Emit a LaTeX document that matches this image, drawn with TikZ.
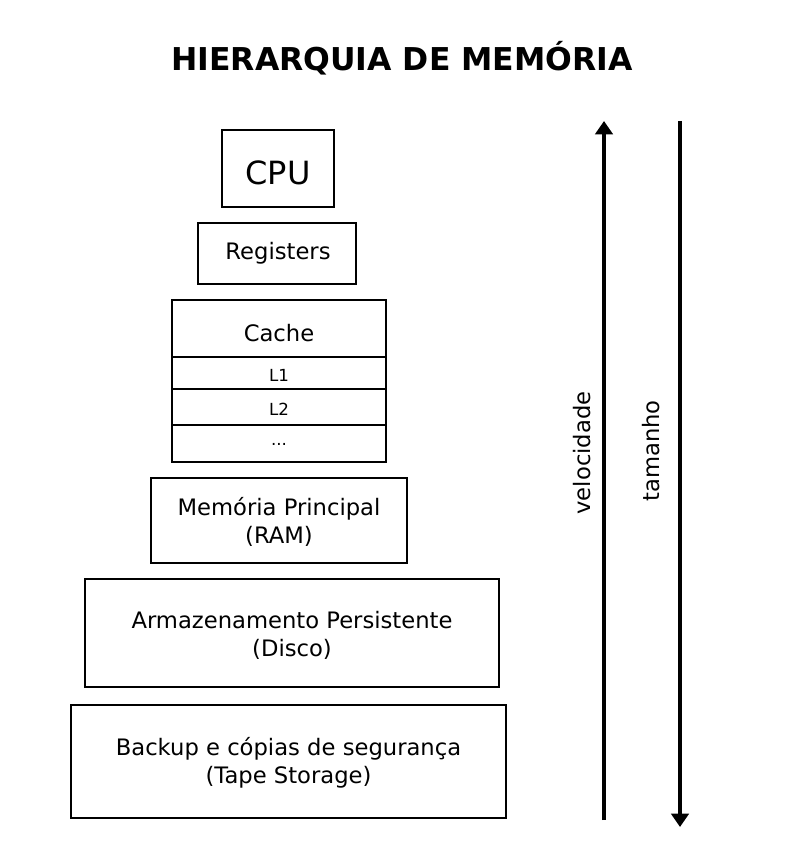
\documentclass[tikz,border=0pt]{standalone}
\usepackage{fontspec}
\setmainfont{DejaVu Sans}
\usetikzlibrary{arrows.meta}

\tikzset{
  box/.style={line width=1pt},
  txt/.style={align=center, font=\fontsize{17}{21}\selectfont},
  small/.style={font=\fontsize{12.5}{14}\selectfont},
  axis/.style={line width=3.3pt, -{Triangle[width=13pt,length=10pt]}}
}

\begin{document}
\begin{tikzpicture}[x=0.75pt, y=-0.75pt]
          \useasboundingbox (0,0) rectangle (803,855);
          \node (title) at (402,58) {\fontsize{23.6}{28}\selectfont\bfseries HIERARQUIA DE MEMÓRIA};
          % stacked levels
          \draw[box] (222,130) rectangle (334,207);
          \node (cpu) at (278,173) {\fontsize{24}{26}\selectfont CPU};
          \draw[box] (198,223) rectangle (356,284);
          \node[txt] (reg) at (278,253) {Registers};
          \draw[box] (172,300) rectangle (386,462);
          \draw[box] (172,357) -- (386,357);
          \draw[box] (172,389) -- (386,389);
          \draw[box] (172,425) -- (386,425);
          \node[txt] (cache) at (279,333) {Cache};
          \node[small] (l1) at (279,375) {L1};
          \node[small] (l2) at (279,409) {L2};
          \node[small] (dots) at (279,444) {...};
          \draw[box] (151,478) rectangle (407,563);
          \node[txt] (ram) at (279,522) {Memória Principal\\(RAM)};
          \draw[box] (85,579) rectangle (499,687);
          \node[txt] (disco) at (292,635) {Armazenamento Persistente\\(Disco)};
          \draw[box] (71,705) rectangle (506,818);
          \node[txt] (tape) at (288.5,763) {Backup e cópias de segurança\\(Tape Storage)};
          % arrows
          \coordinate (v0) at (604,820);
          \coordinate (v1) at (604,121);
          \coordinate (t0) at (680,121);
          \coordinate (t1) at (680,827);
          \draw[axis] (v0) -- (v1);
          \draw[axis] (t0) -- (t1);
          \node[txt, rotate=90] (vel) at (582,453) {velocidade};
          \node[txt, rotate=90] (tam) at (651,451) {tamanho};
        \end{tikzpicture}
\end{document}
